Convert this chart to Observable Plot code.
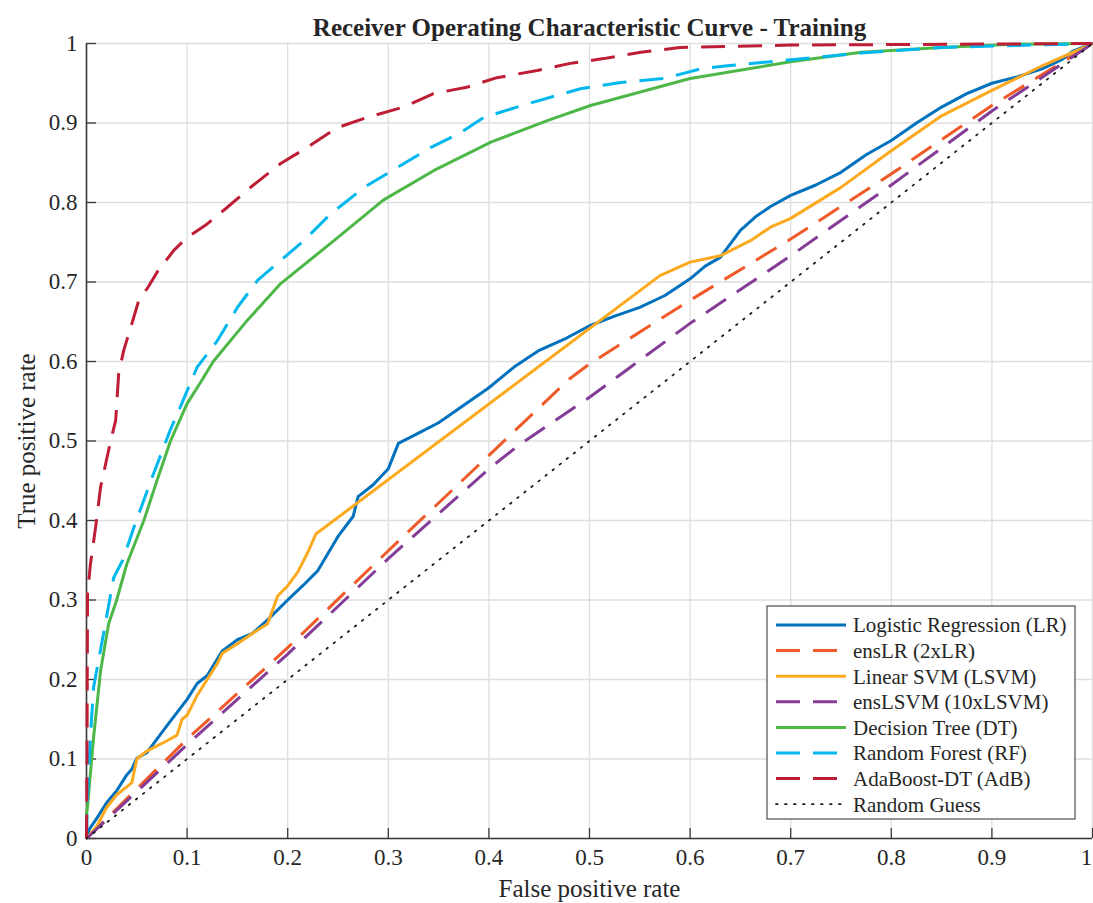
<!DOCTYPE html>
<html><head><meta charset="utf-8">
<script src="https://cdn.jsdelivr.net/npm/d3@7"></script>
<script src="https://cdn.jsdelivr.net/npm/@observablehq/plot@0.6"></script>
<style>body{margin:0;background:#fff;} #chart svg{display:block;}</style>
</head><body><div id="chart"></div>
<script>
// ---------- data ----------
const titleText = "Receiver Operating Characteristic Curve - Training";
const xLabel = "False positive rate";
const yLabel = "True positive rate";
const xTicks = [0,0.1,0.2,0.3,0.4,0.5,0.6,0.7,0.8,0.9,1];
const yTicks = [0,0.1,0.2,0.3,0.4,0.5,0.6,0.7,0.8,0.9,1];
const xTickLabels = ["0","0.1","0.2","0.3","0.4","0.5","0.6","0.7","0.8","0.9","1"];
const yTickLabels = ["0","0.1","0.2","0.3","0.4","0.5","0.6","0.7","0.8","0.9","1"];

const seriesNames = ["Logistic Regression (LR)","ensLR (2xLR)","Linear SVM (LSVM)","ensLSVM (10xLSVM)","Decision Tree (DT)","Random Forest (RF)","AdaBoost-DT (AdB)","Random Guess"];

const lrX = [0,0.003,0.01,0.02,0.03,0.04,0.045,0.05,0.06,0.08,0.1,0.11,0.12,0.135,0.15,0.165,0.18,0.2,0.215,0.23,0.25,0.265,0.27,0.285,0.3,0.31,0.33,0.35,0.375,0.4,0.425,0.45,0.475,0.5,0.525,0.55,0.575,0.6,0.615,0.63,0.65,0.665,0.68,0.7,0.725,0.75,0.775,0.8,0.825,0.85,0.875,0.9,0.925,0.95,0.97,0.98,1];
const lrY = [0,0.012,0.025,0.045,0.06,0.08,0.087,0.101,0.108,0.142,0.175,0.195,0.205,0.236,0.25,0.258,0.275,0.3,0.318,0.337,0.38,0.405,0.43,0.445,0.465,0.497,0.51,0.523,0.545,0.567,0.593,0.614,0.628,0.645,0.657,0.668,0.683,0.704,0.72,0.731,0.765,0.782,0.795,0.809,0.822,0.838,0.86,0.878,0.9,0.92,0.937,0.95,0.958,0.968,0.98,0.99,1];

const enslrX = [0,0.1,0.2,0.3,0.4,0.48,0.5,0.6,0.7,0.8,0.9,1];
const enslrY = [0,0.125,0.24,0.362,0.482,0.578,0.597,0.677,0.754,0.836,0.922,1];

const lsvmX = [0,0.01,0.02,0.03,0.045,0.05,0.06,0.08,0.09,0.095,0.1,0.11,0.12,0.13,0.135,0.15,0.165,0.18,0.19,0.2,0.21,0.22,0.228,0.57,0.6,0.63,0.66,0.68,0.7,0.75,0.8,0.85,0.9,0.95,1];
const lsvmY = [0,0.015,0.039,0.055,0.07,0.1,0.11,0.123,0.13,0.15,0.155,0.18,0.2,0.22,0.233,0.245,0.258,0.27,0.305,0.318,0.335,0.36,0.383,0.708,0.725,0.733,0.752,0.769,0.78,0.819,0.865,0.909,0.941,0.972,1];

const enslsvmX = [0,0.1,0.2,0.3,0.4,0.43,0.5,0.6,0.7,0.8,0.9,1];
const enslsvmY = [0,0.118,0.232,0.352,0.465,0.495,0.555,0.648,0.733,0.822,0.915,1];

const dtX = [0,0,0.001,0.007,0.014,0.022,0.03,0.04,0.057,0.07,0.0835,0.1,0.115,0.126,0.16,0.193,0.246,0.295,0.345,0.402,0.458,0.501,0.6,0.7,0.77,0.85,0.92,1];
const dtY = [0,0.03,0.04,0.127,0.211,0.27,0.3,0.345,0.4,0.45,0.5,0.547,0.577,0.6,0.652,0.698,0.752,0.803,0.84,0.876,0.903,0.922,0.956,0.977,0.989,0.995,0.999,1];

const rfX = [0,0.001,0.004,0.007,0.017,0.027,0.036,0.047,0.064,0.083,0.093,0.11,0.13,0.15,0.17,0.193,0.216,0.243,0.276,0.309,0.342,0.372,0.395,0.438,0.491,0.531,0.574,0.61,0.637,0.703,0.77,0.85,1];
const rfY = [0,0.05,0.13,0.19,0.258,0.328,0.35,0.391,0.45,0.513,0.542,0.593,0.626,0.668,0.702,0.727,0.752,0.786,0.819,0.844,0.869,0.888,0.907,0.924,0.943,0.951,0.956,0.968,0.972,0.98,0.988,0.995,1];

const adbX = [0,0.0005,0.001,0.004,0.009,0.014,0.019,0.024,0.029,0.032,0.037,0.044,0.052,0.061,0.071,0.087,0.1,0.12,0.14,0.163,0.193,0.219,0.249,0.279,0.315,0.345,0.378,0.408,0.448,0.481,0.514,0.551,0.59,0.7,1];
const adbY = [0,0.1,0.308,0.346,0.391,0.442,0.471,0.5,0.526,0.585,0.614,0.643,0.677,0.693,0.714,0.74,0.756,0.773,0.794,0.819,0.849,0.869,0.894,0.907,0.92,0.937,0.945,0.957,0.966,0.975,0.981,0.989,0.995,0.998,1];

const guessX = [0,1];
const guessY = [0,1];

// ---------- styles ----------
const styles = [
  {color:"#0072BD", dash:null, width:3},
  {color:"#F05A28", dash:"24,13", width:3},
  {color:"#FBA91E", dash:null, width:3},
  {color:"#843C97", dash:"24,13", width:3},
  {color:"#4DB748", dash:null, width:3},
  {color:"#00B8EE", dash:"24,13", width:3},
  {color:"#BE1E35", dash:"24,13", width:3},
  {color:"#1a1a1a", dash:"1.6,7.4", width:1.8}
];

const seriesXY = [[lrX,lrY],[enslrX,enslrY],[lsvmX,lsvmY],[enslsvmX,enslsvmY],[dtX,dtY],[rfX,rfY],[adbX,adbY],[guessX,guessY]];

const W = 1093, H = 903;
const mT = 43, mR = 1, mB = 65, mL = 86;
const fw = W - mL - mR, fh = H - mT - mB;
const font = "'Liberation Serif','Times New Roman',Times,serif";
const axisColor = "#3a3a3a";

const lineMarks = seriesXY.map(([xs, ys], i) => {
  const data = xs.map((x, j) => ({x, y: ys[j]}));
  const s = styles[i];
  const opts = {x:"x", y:"y", stroke:s.color, strokeWidth:s.width, curve:"linear", strokeLinecap: i===7 ? "round" : "butt", strokeLinejoin:"round"};
  if (s.dash) opts.strokeDasharray = s.dash;
  return Plot.line(data, opts);
});

const chart = Plot.plot({
  width: W, height: H,
  marginTop: mT, marginRight: mR, marginBottom: mB, marginLeft: mL,
  style: {fontFamily: font, background: "white", color: "#262626"},
  x: {domain:[0,1]},
  y: {domain:[0,1]},
  marks: [
    Plot.ruleX(xTicks, {stroke:"#dedede", strokeWidth:1.3}),
    Plot.ruleY(yTicks, {stroke:"#dedede", strokeWidth:1.3}),
    Plot.ruleX([0], {stroke:axisColor, strokeWidth:1.6}),
    Plot.ruleY([0], {stroke:axisColor, strokeWidth:1.6}),
    Plot.ruleX(xTicks, {stroke:axisColor, strokeWidth:1.3, insetTop: fh - 10}),
    Plot.ruleY(yTicks, {stroke:axisColor, strokeWidth:1.3, insetRight: fw - 10}),
    ...lineMarks,
    Plot.axisX(xTicks.slice(0, -1), {tickSize:0, tickPadding:10, fontSize:23, tickFormat:(d,i)=>xTickLabels[i], fill:"#262626", label:null}),
    Plot.axisX(xTicks.slice(-1), {tickSize:0, tickPadding:10, fontSize:23, dx:-6, tickFormat:()=>xTickLabels[xTickLabels.length-1], fill:"#262626", label:null}),
    Plot.axisY(yTicks, {tickSize:0, tickPadding:9, fontSize:23, tickFormat:(d,i)=>yTickLabels[i], fill:"#262626", label:null}),
    Plot.text([xLabel], {frameAnchor:"bottom", lineAnchor:"middle", textAnchor:"middle", dy:50, fontSize:25, fill:"#262626"}),
    Plot.text([yLabel], {frameAnchor:"left", lineAnchor:"middle", textAnchor:"middle", dx:-60, rotate:-90, fontSize:25, fill:"#262626"}),
    Plot.text([titleText], {frameAnchor:"top", lineAnchor:"middle", textAnchor:"middle", dy:-16, fontSize:25, fontWeight:"bold", fill:"#262626"})
  ]
});

document.getElementById("chart").appendChild(chart);

// ---------- legend ----------
const svg = d3.select(chart);
const lg = svg.append("g").attr("font-family", font).attr("text-anchor", "start");
const bx = 767, by = 606, bw = 308, bh = 213;
lg.append("rect").attr("x", bx).attr("y", by).attr("width", bw).attr("height", bh)
  .attr("fill", "white").attr("stroke", "#4d4d4d").attr("stroke-width", 1.2);
seriesNames.forEach((name, i) => {
  const yy = by + 19 + i * 25.6;
  const s = styles[i];
  const ln = lg.append("line").attr("x1", bx + 9).attr("x2", bx + 79).attr("y1", yy).attr("y2", yy)
    .attr("stroke", s.color).attr("stroke-width", s.width);
  if (s.dash) ln.attr("stroke-dasharray", s.dash);
  if (i === 7) ln.attr("stroke-linecap", "round");
  lg.append("text").attr("x", bx + 86).attr("y", yy).attr("dy", "0.35em")
    .attr("text-anchor", "start")
    .attr("font-size", 21).attr("fill", "#262626").text(name);
});
</script></body></html>
